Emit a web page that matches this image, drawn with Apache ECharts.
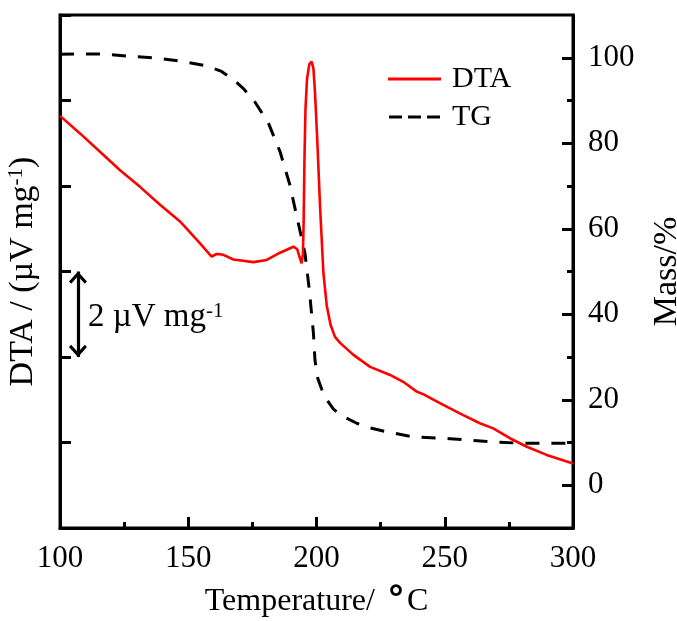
<!DOCTYPE html>
<html>
<head>
<meta charset="utf-8">
<script src="https://cdn.jsdelivr.net/npm/echarts@6/dist/echarts.min.js"></script>
<style>
  html, body { margin: 0; padding: 0; background: #fff; }
  #chart { width: 677px; height: 621px; }
</style>
</head>
<body>
<div id="chart"></div>
<script>
// DTA signal (µV/mg, arbitrary offset) against temperature (°C)
const dtaTemp = [100, 107.8, 115.6, 123.4, 131.2, 139, 146.8, 154.6, 159.1, 161.1, 163.7, 167.6,
  175.4, 180.6, 185.8, 191, 192.5, 193.6, 194.2, 194.7, 195.0, 195.3, 195.7, 196.3, 197.2,
  198.1, 198.8, 199.4, 200.3, 201.4, 202.7, 204.0, 205.5, 207.2, 209.2, 214.4, 220.9, 228.7,
  233.8, 239.1, 242.3, 249.4, 257.2, 263.7, 268.9, 275.4, 282, 289.7, 300];
const dtaValues = [9.64, 9.23, 8.80, 8.37, 7.98, 7.56, 7.17, 6.66, 6.35, 6.41, 6.39, 6.28,
  6.22, 6.27, 6.44, 6.58, 6.52, 6.30, 6.19, 6.40, 7.2, 8.6, 9.8, 10.5, 10.85,
  10.91, 10.75, 10.2, 9.08, 7.5, 5.96, 5.2, 4.75, 4.47, 4.33, 4.05, 3.77, 3.58,
  3.42, 3.19, 3.11, 2.88, 2.64, 2.45, 2.33, 2.10, 1.90, 1.71, 1.51];

// TG mass loss (%) against temperature (°C)
const tgTemp = [100, 110, 117, 126, 136.4, 146.8, 157.2, 163, 167.6, 171.5, 175.4, 181.2,
  185.8, 189.5, 192.9, 195.5, 197.2, 198.8, 199.4, 200.5, 202, 204, 206.6, 210, 215.7,
  221, 227.4, 237.7, 252, 268.9, 280.5, 300];
const tgValues = [100.8, 100.9, 100.9, 100.4, 100.0, 99.2, 98.1, 96.8, 94.9, 92.8, 90.2, 84.8,
  78.0, 70.5, 61.3, 54.3, 45.7, 35.6, 29.3, 25.0, 22.5, 20.0, 17.8, 16.2, 14.5,
  13.4, 12.5, 11.3, 10.9, 10.15, 9.8, 9.8];

// Right-axis labelled ticks and the unlabelled ticks between them
const massTickLabels = [0, 20, 40, 60, 80, 100];
const massMinorTicks = [10, 30, 50, 70, 90];

// 2 µV/mg scale bar drawn on the DTA axis
const scaleBarTemp = 107;
const scaleBarSpan = [4, 6];
const scaleBarLabelAt = [110.9, 4.93];

const serif = '"Liberation Serif", "Times New Roman", serif';
const FS = 31;

const chart = echarts.init(document.getElementById('chart'), null, { renderer: 'canvas' });

// Open arrow head; the tiny second sub-path balances the bounding box so the tip sits on the line end
const chevron = 'path://M0,0 L9,10 L6.8,12.2 L0,4.8 L-6.8,12.2 L-9,10 Z M0,-12.2 L0.01,-12.2 L0.01,-12.19 Z';
const solidIcon = 'path://M0,0h53v3h-53z';
const dashedIcon = 'path://M0,0h13v3h-13z M19,0h13v3h-13z M38,0h13v3h-13z';

const supStyle = { fontFamily: serif, fontSize: 21, color: '#000', verticalAlign: 'top', lineHeight: 21 };

chart.setOption({
  animation: false,
  backgroundColor: '#fff',
  textStyle: { fontFamily: serif, color: '#000' },
  grid: {
    left: 60, right: 104, top: 15, bottom: 93,
    outerBoundsMode: 'none',
    containLabel: false,
    show: true, borderColor: '#000', borderWidth: 3, backgroundColor: 'transparent'
  },
  legend: {
    orient: 'vertical',
    left: 388, top: 64, padding: 0,
    itemWidth: 53, itemHeight: 3, itemGap: 8,
    textStyle: { fontFamily: serif, fontSize: 30, color: '#000', padding: [0, 0, 0, 6] },
    data: [
      { name: 'DTA', icon: solidIcon },
      { name: 'TG', icon: dashedIcon }
    ]
  },
  xAxis: {
    type: 'value', min: 100, max: 300, interval: 50,
    name: 'Temperature/ {deg|°}C', nameLocation: 'middle', nameGap: 58,
    nameTextStyle: {
      fontFamily: serif, fontSize: 32, color: '#000',
      rich: { deg: { fontFamily: '"DejaVu Sans", sans-serif', fontSize: 36, color: '#000', fontWeight: 'bold', lineHeight: 32, padding: [0, 2, 0, 4] } }
    },
    axisLine: { show: true, lineStyle: { color: '#000', width: 3 } },
    axisTick: { inside: true, length: 11, lineStyle: { color: '#000', width: 3 } },
    minorTick: { show: true, splitNumber: 2, length: 6, lineStyle: { color: '#000', width: 3 } },
    axisLabel: { fontFamily: serif, fontSize: FS, color: '#000', margin: 15 },
    splitLine: { show: false }
  },
  yAxis: [
    {
      type: 'value', min: 0, max: 12, interval: 2, position: 'left',
      name: 'DTA / (µV mg{sup|-1})', nameLocation: 'middle', nameGap: 20, nameRotate: 90,
      nameTextStyle: { fontFamily: serif, fontSize: 34, color: '#000', rich: { sup: supStyle } },
      axisLine: { show: true, lineStyle: { color: '#000', width: 3 } },
      axisTick: { inside: true, length: 11, lineStyle: { color: '#000', width: 3 } },
      axisLabel: { show: false },
      splitLine: { show: false }
    },
    {
      type: 'value', min: -10, max: 110, position: 'right',
      name: 'Mass/%', nameLocation: 'middle', nameGap: 77, nameRotate: 90,
      nameTextStyle: { fontFamily: serif, fontSize: 34, color: '#000' },
      axisLine: { show: true, lineStyle: { color: '#000', width: 3 } },
      axisTick: { inside: true, length: 11, customValues: massTickLabels, lineStyle: { color: '#000', width: 3 } },
      axisLabel: { fontFamily: serif, fontSize: FS, color: '#000', margin: 15, customValues: massTickLabels },
      splitLine: { show: false }
    },
    {
      type: 'value', min: -10, max: 110, position: 'right',
      axisLine: { show: false },
      axisTick: { show: true, inside: true, length: 6, customValues: massMinorTicks, lineStyle: { color: '#000', width: 3 } },
      axisLabel: { show: false },
      splitLine: { show: false }
    }
  ],
  series: [
    {
      name: 'DTA', type: 'line', xAxisIndex: 0, yAxisIndex: 0,
      data: dtaTemp.map((t, i) => [t, dtaValues[i]]),
      symbol: 'none', smooth: false,
      lineStyle: { color: '#ff0000', width: 2.6 },
      itemStyle: { color: '#ff0000' },
      z: 3,
      markLine: {
        silent: true, animation: false,
        symbol: [chevron, chevron], symbolSize: [18, 24.4],
        label: { show: false },
        lineStyle: { color: '#000', width: 3.2, type: 'solid' },
        data: [[{ coord: [scaleBarTemp, scaleBarSpan[0]] }, { coord: [scaleBarTemp, scaleBarSpan[1]] }]]
      },
      markPoint: {
        silent: true, animation: false,
        symbol: 'circle', symbolSize: 0,
        label: {
          show: true, position: 'right', distance: 0,
          formatter: '2 µV mg{sup|-1}',
          fontFamily: serif, fontSize: 33, color: '#000',
          rich: { sup: supStyle }
        },
        data: [{ coord: scaleBarLabelAt }]
      }
    },
    {
      name: 'TG', type: 'line', xAxisIndex: 0, yAxisIndex: 1,
      data: tgTemp.map((t, i) => [t, tgValues[i]]),
      symbol: 'none', smooth: false,
      lineStyle: { color: '#000', width: 3, type: [14, 12] },
      itemStyle: { color: '#000' },
      z: 2
    }
  ]
});
</script>
</body>
</html>
